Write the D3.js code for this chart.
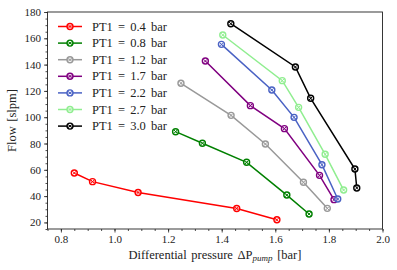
<!DOCTYPE html>
<html><head><meta charset="utf-8">
<script src="https://cdn.jsdelivr.net/npm/d3@7"></script>
<style>body{margin:0;background:#fff}svg{display:block}text{font-family:"Liberation Serif","DejaVu Serif",serif;fill:#222}</style>
</head><body><svg id="c" width="397" height="270"></svg>
<script>
const seriesLabels = ["PT1 = 0.4 bar","PT1 = 0.8 bar","PT1 = 1.2 bar","PT1 = 1.7 bar","PT1 = 2.2 bar","PT1 = 2.7 bar","PT1 = 3.0 bar"];
const seriesColors = ["#ff0000","#008000","#999999","#800080","#4a62c4","#90ee90","#000000"];
const dp04 = [0.85,0.918,1.088,1.456,1.606]; const q04 = [57.6,51,42.8,30.6,22];
const dp08 = [1.228,1.328,1.493,1.643,1.726]; const q08 = [89,80.2,65.7,40.8,26.4];
const dp12 = [1.248,1.435,1.563,1.705,1.794]; const q12 = [125.8,101.4,79.6,50.5,30.7];
const dp17 = [1.339,1.507,1.634,1.765,1.819]; const q17 = [142.7,108.8,91.3,55.8,37.3];
const dp22 = [1.399,1.587,1.67,1.774,1.833]; const q22 = [155.4,120.7,99.9,63.9,37.8];
const dp27 = [1.404,1.626,1.687,1.786,1.855]; const q27 = [162.5,127.8,107.5,71.8,44.6];
const dp30 = [1.434,1.675,1.732,1.897,1.904]; const q30 = [171.1,138.2,114.4,60.6,46.2];
const xTicks = [0.8,1.0,1.2,1.4,1.6,1.8,2.0];
const yTicks = [20,40,60,80,100,120,140,160,180];

const xs=[dp04,dp08,dp12,dp17,dp22,dp27,dp30], ys=[q04,q08,q12,q17,q22,q27,q30];
const svg=d3.select("#c");
const L=47.5,R=382.5,T=12,B=229;
const x=d3.scaleLinear().domain([0.75,2.0]).range([L,R]);
const y=d3.scaleLinear().domain([15,180]).range([B,T]);

const gxm=svg.append("g").attr("transform",`translate(0,${B})`).call(d3.axisBottom(x).tickValues(d3.range(0.75,2.0001,0.05)).tickSize(2).tickFormat(""));
const gym=svg.append("g").attr("transform",`translate(${L},0)`).call(d3.axisLeft(y).tickValues(d3.range(15,180.001,5)).tickSize(2).tickFormat(""));
[gxm,gym].forEach(g=>{g.select(".domain").remove();g.selectAll("line").attr("stroke","#222").attr("stroke-width",0.8);});
const gx=svg.append("g").attr("transform",`translate(0,${B})`).call(d3.axisBottom(x).tickValues(xTicks).tickSize(3.5).tickPadding(3).tickFormat(d3.format(".1f")));
const gy=svg.append("g").attr("transform",`translate(${L},0)`).call(d3.axisLeft(y).tickValues(yTicks).tickSize(3.5).tickPadding(3).tickFormat(d3.format("d")));
[gx,gy].forEach(g=>{g.select(".domain").remove();g.selectAll("line").attr("stroke","#222").attr("stroke-width",0.8);g.selectAll("text").attr("font-size",11).attr("font-family",'"Liberation Serif",serif').attr("fill","#222");});
svg.append("rect").attr("x",L).attr("y",T).attr("width",R-L).attr("height",B-T).attr("fill","none").attr("stroke","#222").attr("stroke-width",0.9);

function marker(g,cx,cy,c){
  g.append("circle").attr("cx",cx).attr("cy",cy).attr("r",3).attr("fill","#fff").attr("fill-opacity",0.5).attr("stroke",c).attr("stroke-width",1.4);
  const s=1.7;
  g.append("path").attr("d",`M${cx-s},${cy-s}L${cx+s},${cy+s}M${cx-s},${cy+s}L${cx+s},${cy-s}`).attr("stroke",c).attr("stroke-width",1);
}
const line=d3.line();
xs.forEach((xv,i)=>{
  const pts=xv.map((v,j)=>[x(v),y(ys[i][j])]);
  const g=svg.append("g");
  g.append("path").attr("d",line(pts)).attr("fill","none").attr("stroke",seriesColors[i]).attr("stroke-width",1.5);
  pts.forEach(p=>marker(g,p[0],p[1],seriesColors[i]));
});
seriesLabels.forEach((lab,i)=>{
  const ly=26.5+i*16.6;
  const g=svg.append("g");
  g.append("line").attr("x1",58).attr("x2",82).attr("y1",ly).attr("y2",ly).attr("stroke",seriesColors[i]).attr("stroke-width",1.5);
  marker(g,70,ly,seriesColors[i]);
  g.append("text").attr("x",92).attr("y",ly+4).attr("font-size",12.5).attr("word-spacing",2).text(lab);
});
svg.append("text").attr("transform","translate(16,120.5) rotate(-90)").attr("text-anchor","middle").attr("font-size",12.5).attr("word-spacing",1.5).text("Flow [slpm]");
const xl=svg.append("text").attr("x",215).attr("y",259).attr("text-anchor","middle").attr("font-size",12.5).attr("word-spacing",1.5);
xl.append("tspan").text("Differential pressure ΔP");
xl.append("tspan").attr("font-style","italic").attr("font-size",9).attr("dy",2).text("pump");
xl.append("tspan").attr("dy",-2).text(" [bar]");
</script></body></html>
